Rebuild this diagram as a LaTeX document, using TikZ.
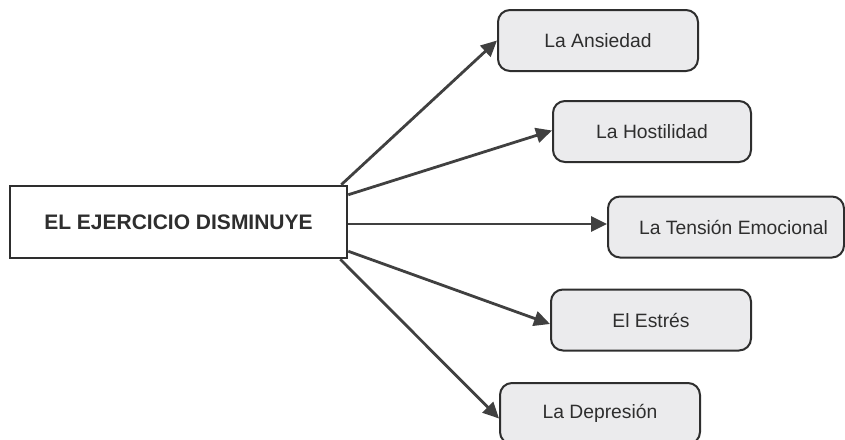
\documentclass[tikz,border=0pt]{standalone}
\usepackage{fontspec}
\setmainfont{Liberation Sans}
\usetikzlibrary{arrows.meta}
\definecolor{edge}{HTML}{404040}
\definecolor{boxfill}{HTML}{EBEBED}
\definecolor{txt}{HTML}{2E2E2E}
\tikzset{
  mainbox/.style={draw=txt, line width=2.5pt, fill=white, inner sep=0pt,
    minimum width=337pt, minimum height=72pt, text=txt,
    font=\fontsize{21}{24}\selectfont\bfseries},
  itembox/.style={draw=txt, line width=2pt, fill=boxfill, rounded corners=12pt,
    inner sep=0pt, minimum height=61pt, text=txt,
    font=\fontsize{19.3}{22}\selectfont},
  conn/.style={draw=edge, line width=2.8pt,
    -{Triangle[length=16pt,width=15pt]}}
}
\begin{document}
\begin{tikzpicture}[x=1pt,y=-1pt]
\useasboundingbox (0,0) rectangle (845,439);
\node[mainbox] (main) at (178.5,222) {EL EJERCICIO DISMINUYE};
\node[itembox, minimum width=200pt] (ans) at (598,40.5) {La Ansiedad};
\node[itembox, minimum width=198pt] (hos) at (652,131.5) {La Hostilidad};
\node[itembox, minimum width=236pt] (ten) at (726,227) {\hspace*{15pt}La Tensión Emocional};
\node[itembox, minimum width=200pt] (est) at (651,320) {El Estrés};
\node[itembox, minimum width=200pt] (dep) at (600,413.5) {La Depresión};
\draw[conn] ([xshift=-7pt]main.north east) -- (ans.west);
\draw[conn] ([yshift=-10pt]main.north east) -- ([yshift=1pt]hos.west);
\draw[conn] ([yshift=-2pt]main.east) -- ([yshift=-2pt]main.east -| ten.west);
\draw[conn] ([yshift=8pt]main.south east) -- ([yshift=-4pt]est.west);
\draw[conn] ([xshift=-8pt]main.south east) -- ([yshift=-5pt]dep.west);
\end{tikzpicture}
\end{document}
